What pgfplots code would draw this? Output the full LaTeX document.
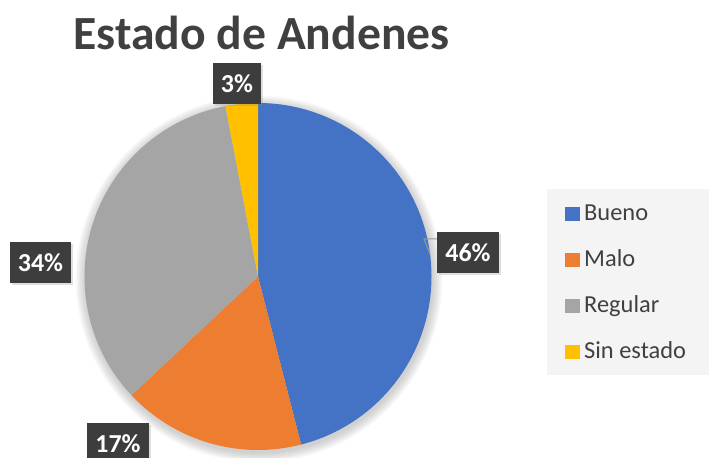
\documentclass[border=0pt]{standalone}
\usepackage{pgfplots}
\pgfplotsset{compat=1.18}
\usepackage{pgfplotstable}
\usepackage{fontspec}
\setmainfont{Carlito}
\usetikzlibrary{shadows}

\definecolor{cBueno}{HTML}{4472C4}
\definecolor{cMalo}{HTML}{ED7D31}
\definecolor{cRegular}{HTML}{A5A5A5}
\definecolor{cSin}{HTML}{FFC000}
\definecolor{txtgray}{HTML}{404040}
\definecolor{boxgray}{HTML}{3D3D3D}
\definecolor{legendbg}{HTML}{F4F4F4}

% share of each state, in percent
\pgfplotstableread[col sep=comma]{
estado,value
Bueno,46
Malo,17
Regular,34
Sin estado,3
}\estados

\newcommand\getval[2]{\pgfplotstablegetelem{#1}{value}\of\estados\global\let#2\pgfplotsretval}
\getval{0}\vBueno
\getval{1}\vMalo
\getval{2}\vRegular
\getval{3}\vSin
% slice boundaries, clockwise from 12 o'clock
\pgfmathsetmacro\aA{90-3.6*\vBueno}
\pgfmathsetmacro\aB{\aA-3.6*\vMalo}
\pgfmathsetmacro\aC{\aB-3.6*\vRegular}
\pgfmathsetmacro\aD{\aC-3.6*\vSin}

% one slice: from angle #1 to angle #2 (clockwise), colour #3
\newcommand\slice[3]{%
  \fill[#3] (axis cs:258,181.5) -- ++(#1:173.5bp)
    arc[start angle=#1, end angle=#2, radius=173.5bp] -- cycle;}

\begin{document}
\begin{tikzpicture}[
  lbl/.style={fill=boxgray, text=white, font=\bfseries\fontsize{26}{26}\selectfont,
    minimum height=41bp, inner xsep=8bp, inner ysep=0pt,
    drop shadow={opacity=0.25, shadow xshift=2bp, shadow yshift=-2bp}},
  leg/.style={anchor=base west, text=txtgray, font=\fontsize{24.5}{24.5}\selectfont, inner sep=0pt}]
\useasboundingbox (0,0) rectangle (709bp,458bp);
\clip (0,0) rectangle (709bp,458bp);
\begin{scope}[overlay]
\begin{axis}[
  at={(0,0)}, anchor=south west,
  x=1bp, y=1bp, xmin=0, xmax=709, ymin=0, ymax=458,
  scale only axis, hide axis, clip=false]
  % soft shadow under the pie
  \pgfplotsinvokeforeach{1,...,10}{
    \fill[black, opacity=0.018] (axis cs:259,179) circle[radius={173.5bp+#1bp}];
  }
  \slice{90}{\aA}{cBueno}
  \slice{\aA}{\aB}{cMalo}
  \slice{\aB}{\aC}{cRegular}
  \slice{\aC}{\aD}{cSin}

  % leader line of the Bueno label
  \draw[gray!80, line width=1bp] (axis cs:437,219) -- (axis cs:424,219) -- (axis cs:430,204);

  % data labels
  \node[lbl] at (axis cs:468,205.5) {\vBueno\%};
  \node[lbl] at (axis cs:118,14.5) {\vMalo\%};
  \node[lbl] at (axis cs:40.5,195.5) {\vRegular\%};
  \node[lbl] at (axis cs:237,374.5) {\vSin\%};

  % title
  \node[anchor=base, text=txtgray, font=\bfseries\fontsize{47.8}{47.8}\selectfont]
    at (axis cs:261.5,408) {Estado de Andenes};

  % legend
  \fill[legendbg] (axis cs:547,83) rectangle (axis cs:709,269);
  \fill[cBueno]   (axis cs:565,237) rectangle (axis cs:580,251);
  \fill[cMalo]    (axis cs:565,191) rectangle (axis cs:580,205);
  \fill[cRegular] (axis cs:565,145) rectangle (axis cs:580,159);
  \fill[cSin]     (axis cs:565,99)  rectangle (axis cs:580,113);
  \node[leg] at (axis cs:584,238) {Bueno};
  \node[leg] at (axis cs:584,192) {Malo};
  \node[leg] at (axis cs:584,146) {Regular};
  \node[leg] at (axis cs:584,100) {Sin estado};
\end{axis}
\end{scope}
\end{tikzpicture}
\end{document}
